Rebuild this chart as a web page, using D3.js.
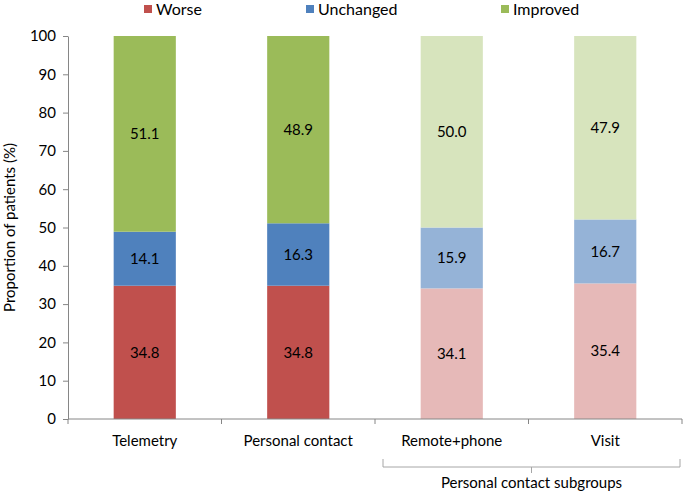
<!DOCTYPE html>
<html>
<head>
<meta charset="utf-8">
<script src="https://cdn.jsdelivr.net/npm/d3@7"></script>
<style>
  body { margin: 0; background: #fff; }
  text { font-family: Lato, "Open Sans", sans-serif; fill: #000; }
</style>
</head>
<body>
<div id="chart"></div>
<script>
// data
const categories = ['Telemetry', 'Personal contact', 'Remote+phone', 'Visit'];
const seriesNames = ['Worse', 'Unchanged', 'Improved'];
const worse = [34.8, 34.8, 34.1, 35.4];
const unchanged = [14.1, 16.3, 15.9, 16.7];
const improved = [51.1, 48.9, 50.0, 47.9];
const yTicks = [0, 10, 20, 30, 40, 50, 60, 70, 80, 90, 100];
const subgroupLabel = 'Personal contact subgroups';
const subgroupCats = ['Remote+phone', 'Visit'];

const darkColors = ['#C0504D', '#4F81BD', '#9BBB59'];
const lightColors = ['#E6B9B8', '#95B3D7', '#D7E4BD'];

const width = 685, height = 495;
const margin = {left: 68, right: 3, top: 36, bottom: 76};
const fs = '15px';

const svg = d3.select('#chart').append('svg')
    .attr('width', width)
    .attr('height', height);

const x = d3.scaleBand()
    .domain(categories)
    .range([margin.left, width - margin.right])
    .paddingInner(0)
    .paddingOuter(0);

const y = d3.scaleLinear()
    .domain([0, 100])
    .range([height - margin.bottom, margin.top]);

// stack the rows
const rows = categories.map((c, i) => ({cat: c, Worse: worse[i], Unchanged: unchanged[i], Improved: improved[i]}));
const stacked = d3.stack().keys(seriesNames)(rows);

const barW = x.bandwidth() * 0.405;

stacked.forEach((layer, si) => {
    const g = svg.append('g');
    g.selectAll('rect').data(layer)
        .join('rect')
        .attr('x', d => x(d.data.cat) + (x.bandwidth() - barW) / 2)
        .attr('y', d => y(d[1]))
        .attr('width', barW)
        .attr('height', d => y(d[0]) - y(d[1]))
        .attr('fill', d => subgroupCats.includes(d.data.cat) ? lightColors[si] : darkColors[si]);

    g.selectAll('text').data(layer)
        .join('text')
        .attr('x', d => x(d.data.cat) + x.bandwidth() / 2)
        .attr('y', d => (y(d[0]) + y(d[1])) / 2)
        .attr('dy', '0.35em')
        .attr('text-anchor', 'middle')
        .style('font-size', fs)
        .text(d => d3.format('.1f')(d[1] - d[0]));
});

// y axis
const yAxis = svg.append('g')
    .attr('transform', `translate(${margin.left},0)`)
    .call(d3.axisLeft(y).tickValues(yTicks).tickSize(5).tickPadding(7).tickSizeOuter(0));
yAxis.select('.domain').attr('stroke', '#868686');
yAxis.selectAll('.tick line').attr('stroke', '#868686');
yAxis.selectAll('.tick text')
    .style('font-size', fs)
    .style('font-family', 'Lato, "Open Sans", sans-serif')
    .attr('fill', '#000');

// x axis: baseline + boundary ticks between categories
const xBase = y(0);
svg.append('line')
    .attr('x1', margin.left).attr('x2', width - margin.right)
    .attr('y1', xBase).attr('y2', xBase)
    .attr('stroke', '#868686');

const bounds = categories.map(c => x(c)).concat([x(categories[categories.length - 1]) + x.bandwidth()]);
svg.append('g').selectAll('line').data(bounds)
    .join('line')
    .attr('x1', d => d).attr('x2', d => d)
    .attr('y1', xBase).attr('y2', xBase + 5)
    .attr('stroke', '#868686');

svg.append('g').selectAll('text').data(categories)
    .join('text')
    .attr('x', d => x(d) + x.bandwidth() / 2)
    .attr('y', xBase + 27)
    .attr('text-anchor', 'middle')
    .style('font-size', fs)
    .text(d => d);

// bracket under the subgroups
const bx1 = x(subgroupCats[0]) + 8;
const bx2 = x(subgroupCats[subgroupCats.length - 1]) + x.bandwidth() - 2;
const bTop = xBase + 40, bMid = xBase + 48;
const bc = (bx1 + bx2) / 2;
svg.append('path')
    .attr('d', `M${bx1},${bTop} L${bx1},${bMid} L${bx2},${bMid} L${bx2},${bTop} M${bc},${bMid} L${bc},${bMid + 6}`)
    .attr('fill', 'none')
    .attr('stroke', '#A6A6A6');

svg.append('text')
    .attr('x', bc)
    .attr('y', bMid + 21)
    .attr('text-anchor', 'middle')
    .style('font-size', fs)
    .text(subgroupLabel);

// y axis title
svg.append('text')
    .attr('transform', `translate(15,${(margin.top + xBase) / 2}) rotate(-90)`)
    .attr('text-anchor', 'middle')
    .style('font-size', fs)
    .text('Proportion of patients (%)');

// legend
const legendX = [144, 306, 501];
const lg = svg.append('g').selectAll('g').data(seriesNames)
    .join('g')
    .attr('transform', (d, i) => `translate(${legendX[i]},9)`);
lg.append('rect')
    .attr('x', 0).attr('y', -4)
    .attr('width', 8).attr('height', 8)
    .attr('fill', (d, i) => darkColors[i]);
lg.append('text')
    .attr('x', 12)
    .attr('dy', '0.35em')
    .style('font-size', '16px')
    .text(d => d);
</script>
</body>
</html>
